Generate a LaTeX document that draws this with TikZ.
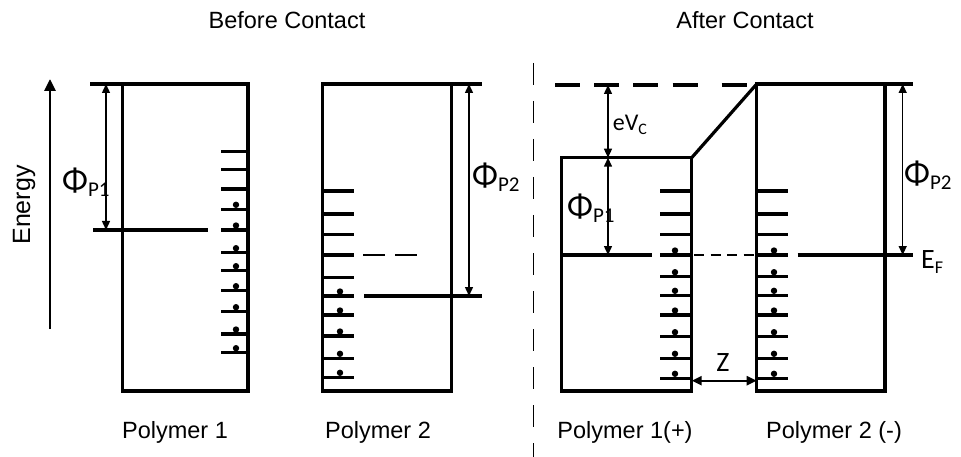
\documentclass[tikz,border=0pt]{standalone}
\usepackage{fontspec}
\setmainfont{Liberation Sans}
\newfontfamily\calib{Carlito}
\usetikzlibrary{arrows.meta}
\newcommand\philabel[1]{{\calib\fontsize{34}{34}\selectfont Φ}{\calib\fontsize{21}{21}\selectfont\raisebox{-5pt}{#1}}}
\begin{document}
\begin{tikzpicture}[x=1pt,y=-1pt,
  wall/.style={line width=3.2pt},
  lvl/.style={line width=3.2pt},
  dim/.style={line width=1.4pt,{Triangle[length=9pt,width=8pt]}-{Triangle[length=9pt,width=8pt]}},
  title/.style={font=\fontsize{23.5}{26}\selectfont, anchor=base, inner sep=0pt},
  sym/.style={anchor=west, inner sep=0pt},
]
\useasboundingbox (0,0) rectangle (961,457);
\fill[white] (0,0) rectangle (961,457);

% titles and captions
\node[title] (t1) at (287,28.3) {Before Contact};
\node[title] (t2) at (745,28.3) {After Contact};
\node[title] (p1) at (175,438.3) {Polymer 1};
\node[title] (p2) at (378,438.3) {Polymer 2};
\node[title] (p3) at (625,438.3) {Polymer 1(+)};
\node[title] (p4) at (834,438.3) {Polymer 2 (-)};

% divider
\coordinate (d0) at (533.3,63); \coordinate (d1) at (533.3,457);
\draw[line width=1.4pt, dash pattern=on 22pt off 16pt] (d0) -- (d1);

% energy axis
\coordinate (e0) at (50,329); \coordinate (e1) at (50,79);
\draw[line width=2.8pt,-{Triangle[length=12pt,width=11pt]}] (e0) -- (e1);
\node[rotate=90, font=\fontsize{25}{28}\selectfont, inner sep=0pt] (energy) at (24,205) {Energy};

% ---------- Before: polymer 1 ----------
\draw[wall] (122.7,84) rectangle (248,391);
\draw[wall] (90,84) -- (122.7,84);
\foreach \y in {151.7,169.3,189,209.3,230,252.7,270.7,290.7,311.7,334,352.7}
  \draw[lvl] (221,\y) -- (248,\y);
\foreach \y in {209.3,230,252.7,270.7,290.7,311.7,334,352.7}
  \fill (236,\y-4.5) circle (3.2);
\draw[lvl] (93,230) -- (208,230);
\coordinate (a1t) at (106,84); \coordinate (a1b) at (106,230);
\draw[dim] (a1t) -- (a1b);
\node[sym] (phi1) at (62,182) {\philabel{P1}};

% ---------- Before: polymer 2 ----------
\draw[wall] (322.7,84) rectangle (451.7,391);
\draw[wall] (451.7,84) -- (481.7,84);
\foreach \y in {191,214,234.3,255,277.3,296,315,336,358.3,377.3}
  \draw[lvl] (322.7,\y) -- (354,\y);
\foreach \y in {296,315,336,358.3,377.3}
  \fill (340,\y-4.5) circle (3.2);
\draw[line width=2.8pt] (363,255) -- (385,255);
\draw[line width=2.8pt] (395,255) -- (417,255);
\draw[lvl] (364,296) -- (481.7,296);
\coordinate (a2t) at (469,84); \coordinate (a2b) at (469,296);
\draw[dim] (a2t) -- (a2b);
\node[sym] (phi2) at (472,177) {\philabel{P2}};

% ---------- After: polymer 1 ----------
\draw[wall] (561.7,157.7) rectangle (691.7,391);
\foreach \y in {191,214,234.3,255,276.7,295.3,315,336.7,358.3,378.3}
  \draw[lvl] (660,\y) -- (691.7,\y);
\foreach \y in {255,276.7,295.3,315,336.7,358.3,378.3}
  \fill (675,\y-4.5) circle (3.2);
\draw[lvl] (561.7,255) -- (651.7,255);
\foreach \a in {694,710.5,727,743.5}
  \draw[line width=2.6pt] (\a,255) -- (\a+10,255);
\foreach \a/\b in {555/580,594.3/619.3,633.3/658.3,672.7/697.7,721.7/746.7}
  \draw[line width=3.3pt] (\a,85) -- (\b,85);
\coordinate (b1) at (691.7,157.7); \coordinate (b2) at (756.7,84);
\draw[wall] (b1) -- (b2);
\coordinate (v0) at (608,85); \coordinate (v1) at (608,157.7); \coordinate (v2) at (608,255);
\draw[dim] (v0) -- (v1);
\draw[dim] (v1) -- (v2);
\node[sym] (evc) at (612.7,125) {{\calib\fontsize{24}{24}\selectfont eV}{\calib\fontsize{16}{16}\selectfont\raisebox{-4pt}{C}}};
\node[sym] (phi3) at (567,208) {\philabel{P1}};

% ---------- After: polymer 2 ----------
\draw[wall] (756.7,84) rectangle (885,391);
\draw[wall] (885,84) -- (913,84);
\foreach \y in {191,214,234.3,255,276.7,295.3,315,336.7,358.3,378.3}
  \draw[lvl] (756.7,\y) -- (788.3,\y);
\foreach \y in {255,276.7,295.3,315,336.7,358.3,378.3}
  \fill (774,\y-4.5) circle (3.2);
\draw[lvl] (797.7,255) -- (913,255);
\coordinate (c0) at (902.7,84); \coordinate (c1) at (902.7,255);
\draw[dim] (c0) -- (c1);
\node[sym] (phi4) at (904,175) {\philabel{P2}};
\node[sym] (ef) at (921,262) {{\calib\fontsize{28}{28}\selectfont E}{\calib\fontsize{18}{18}\selectfont\raisebox{-5pt}{F}}};

% z gap
\coordinate (z0) at (691.7,380.7); \coordinate (z1) at (756.7,380.7);
\draw[line width=2.4pt,{Triangle[length=10pt,width=9pt]}-{Triangle[length=10pt,width=9pt]}] (z0) -- (z1);
\node[font=\calib\fontsize{28}{28}\selectfont, inner sep=0pt] (z) at (723,363) {Z};
\end{tikzpicture}
\end{document}
